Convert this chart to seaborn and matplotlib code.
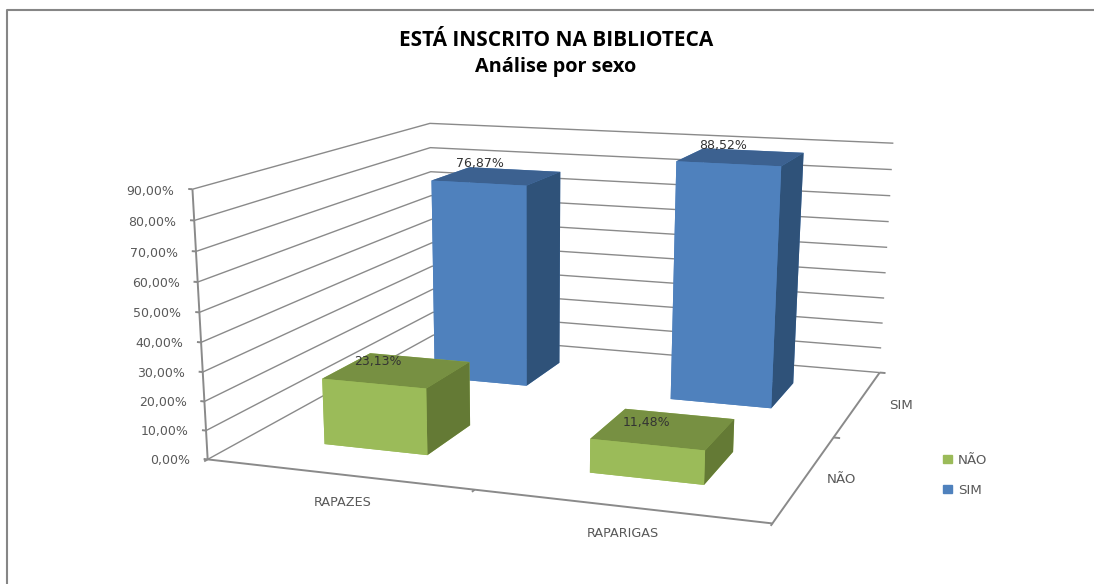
# Está inscrito na biblioteca - 3D bars, Excel style
import numpy as np
import matplotlib
matplotlib.use("Agg")
import matplotlib.pyplot as plt
import seaborn as sns
from matplotlib.lines import Line2D
from matplotlib.patches import Patch
from mpl_toolkits.mplot3d.art3d import Line3DCollection

groups = ["RAPAZES", "RAPARIGAS"]
answers = ["NÃO", "SIM"]
nao_values = [0.2313, 0.1148]
sim_values = [0.7687, 0.8852]
z_ticks = [0.0, 0.1, 0.2, 0.3, 0.4, 0.5, 0.6, 0.7, 0.8, 0.9]

sns.set_theme(style="white")
plt.rcParams["font.family"] = ["DejaVu Sans"]

# camera taken from the axis corners of the picture: (x, y, z) -> pixel
world = np.array([[0, 0, 0], [0, 0, .9], [1, 0, 0], [1, 1, 0], [1, 1, .9],
                  [0, 1, .9], [.5, 0, 0], [1, .5, 0], [1, 1, .6], [0, 0, .6]])
pixel = np.array([[208, 459], [193, 189], [772, 523], [879, 373], [893, 143],
                  [430, 123], [474, 490], [835, 437], [889, 222], [197, 283]], float)
rows = []
for (x, y, z), (u, v) in zip(world, pixel):
    rows.append([x, y, z, 1, 0, 0, 0, 0, -u*x, -u*y, -u*z, -u])
    rows.append([0, 0, 0, 0, x, y, z, 1, -v*x, -v*y, -v*z, -v])
cam = np.linalg.svd(np.array(rows))[2][-1].reshape(3, 4)
cam = cam / cam[2, 3]
M = np.vstack([cam[0], cam[1], [0, 0, 0, -1], cam[2]])

fig = plt.figure(figsize=(10.94, 5.84), dpi=100)
ax = fig.add_axes([0, 0, 1, 1], projection="3d")
ax.computed_zorder = False
ax.get_proj = lambda: M
ax.apply_aspect = lambda position=None: None
ax.set_xticks([])
ax.set_yticks([])
ax.set_zticks([])
ax.set_axis_off()


def put_text(x, y, z, s, **kw):
    # text goes through the same camera as the bars
    p = cam @ [x, y, z, 1]
    ax.text2D(p[0] / p[2], p[1] / p[2], s, transform=ax.transData, **kw)


line_col = "#8a8a8a"
label_col = "#595959"
grid = []
ticks = []
for z in z_ticks:
    grid.append([(0, 0, z), (0, 1, z), (1, 1, z)])
    ticks.append([(-0.008, 0, z), (0, 0, z)])
    put_text(-0.035, 0, z - 0.005, f"{z*100:.2f}%".replace(".", ","), ha="right", va="center_baseline",
             fontsize=9, color=label_col)
ax.add_collection3d(Line3DCollection(grid, colors=line_col, linewidths=1, zorder=1), autolim=False)
frame = [[(0, 0, 0), (0, 0, 0.9)], [(0, 0, 0), (1, 0, 0), (1, 1, 0)]]
ticks += [[(0, 0, 0), (0, -0.012, 0)], [(0.5, 0, 0), (0.5, -0.012, 0)], [(1, 0, 0), (1, -0.012, 0)],
          [(1, 0.5, 0), (1.012, 0.5, 0)], [(1, 1, 0), (1.012, 1, 0)]]
ax.add_collection3d(Line3DCollection(frame + ticks, colors=line_col, linewidths=1.4, zorder=2), autolim=False)

# faces: bottom, top, front, back, left, right
green = ["#9bbb59", "#779042", "#9bbb59", "#9bbb59", "#9bbb59", "#647a35"]
blue = ["#4f81bd", "#3c6190", "#4f81bd", "#4f81bd", "#4f81bd", "#2f5279"]

x_left = [0.15, 0.65]
bar_w = 0.2
y_front = [0.152, 0.655]
bar_d = 0.2
for i in range(2):
    ax.bar3d(x_left[i], y_front[1], 0, bar_w, bar_d, sim_values[i], color=blue,
             shade=False, zorder=3, edgecolor="none", linewidth=0)
for i in range(2):
    ax.bar3d(x_left[i], y_front[0], 0, bar_w, bar_d, nao_values[i], color=green,
             shade=False, zorder=4, edgecolor="none", linewidth=0)

# value labels sit on the top of the bars
sim_dx = [0.023, 0.04]
nao_dx = [0.015, 0.04]
nao_dz = [0.03, 0.04]
for i in range(2):
    put_text(x_left[i] + sim_dx[i], y_front[1] + bar_d, sim_values[i] + 0.015,
             f"{sim_values[i]*100:.2f}%".replace(".", ","), ha="center", va="center",
             fontsize=9, color="#333333", zorder=5)
    put_text(x_left[i] + nao_dx[i], y_front[0] + bar_d, nao_values[i] - nao_dz[i],
             f"{nao_values[i]*100:.2f}%".replace(".", ","), ha="center", va="center",
             fontsize=9, color="#333333", zorder=5)

# category labels under the floor
put_text(0.325, -0.135, 0, groups[0], ha="center", va="center", fontsize=9.2, color=label_col)
put_text(0.795, -0.125, 0, groups[1], ha="center", va="center", fontsize=9.2, color=label_col)
put_text(1.063, 0.24, 0.01, answers[0], ha="center", va="center", fontsize=9.6, color=label_col)
put_text(1.085, 0.73, 0.017, answers[1], ha="center", va="center", fontsize=9.6, color=label_col)

ax.viewLim.intervalx = (0, 1094)
ax.viewLim.intervaly = (584, 0)

handles = [Patch(color="#9bbb59", label=answers[0]), Patch(color="#4f81bd", label=answers[1])]
fig.legend(handles=handles, loc="upper left", bbox_to_anchor=(931/1094, 1-442/584), frameon=False,
           fontsize=9.6, handlelength=0.7, handleheight=0.55, handletextpad=0.4, labelspacing=1.25,
           labelcolor=label_col)

fig.add_artist(Line2D([7/1094, 7/1094, 1], [0, 1-10/584, 1-10/584], color="#868686", lw=1.5))
fig.text(556/1094, 1-40/584, "ESTÁ INSCRITO NA BIBLIOTECA", ha="center", va="center",
         fontsize=15, fontweight="bold", family="Open Sans", color="black")
fig.text(556/1094, 1-67/584, "Análise por sexo", ha="center", va="center",
         fontsize=14.3, fontweight="bold", family="Open Sans", color="black")

fig.savefig("out.png", dpi=100)
